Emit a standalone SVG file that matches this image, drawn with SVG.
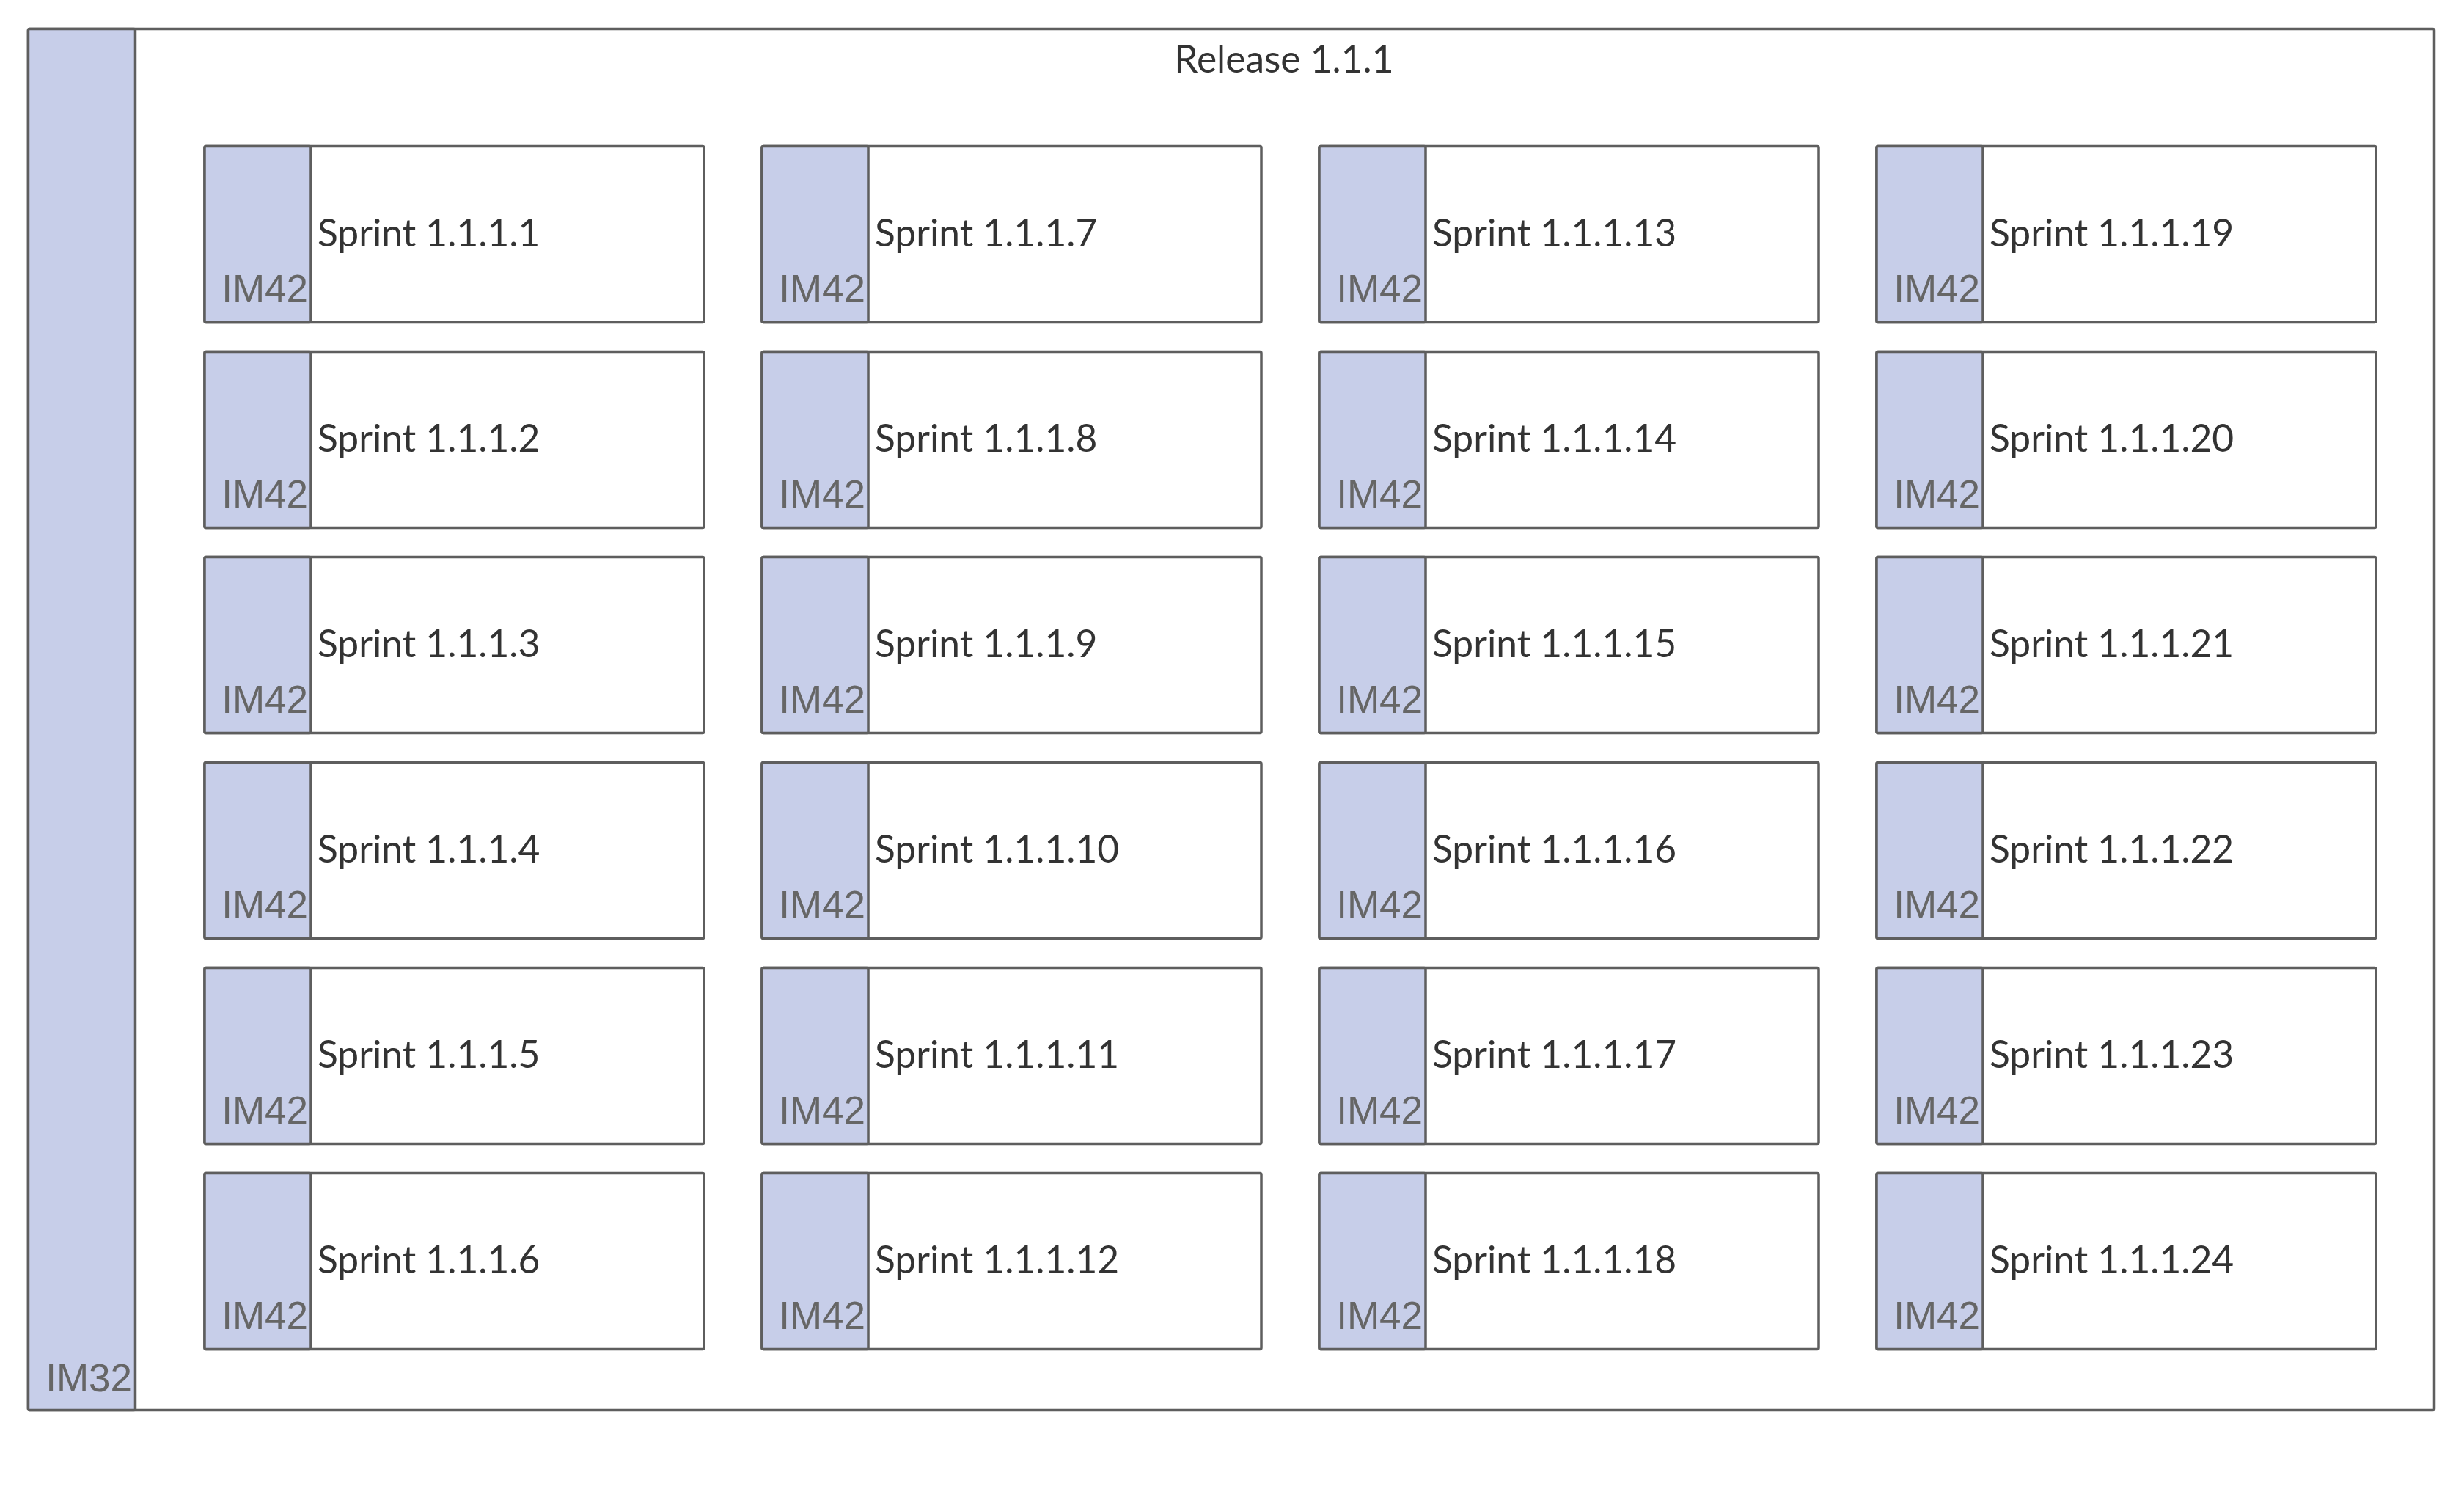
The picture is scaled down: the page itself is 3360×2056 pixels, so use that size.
<svg xmlns="http://www.w3.org/2000/svg" width="3360" height="2056" viewBox="0 0 3360 2056">
<style>
.box{fill:#ffffff;stroke:#5e5e5e;stroke-width:3.5}
.strip{fill:#c7cee9;stroke:#5e5e5e;stroke-width:3.5}
.lbl{font-family:Lato,"Liberation Sans",sans-serif;font-size:51.5px;fill:#333333}
.im{font-family:"Liberation Sans",Arial,sans-serif;font-size:53px;fill:#666666;text-anchor:end}
</style>
<defs>
<g id="sprint">
<rect class="box" x="0" y="0" width="681" height="240" rx="2"/>
<rect class="strip" x="0" y="0" width="145" height="240" rx="2"/>
<text class="im" x="141" y="212">IM42</text>
</g>
</defs>
<rect width="3360" height="2056" fill="#ffffff"/>
<g id="release">
<rect class="box" x="38.5" y="39.5" width="3281" height="1883" rx="2"/>
<rect class="strip" x="38.5" y="39.5" width="146" height="1883" rx="2"/>
<text class="im" x="180" y="1897">IM32</text>
<text class="lbl" x="1751" y="99" text-anchor="middle">Release 1.1.1</text>
</g>
<g id="sprints">
<g id="s1" transform="translate(279,199.5)"><use href="#sprint"/><text class="lbl" x="154" y="136">Sprint 1.1.1.1</text></g>
<g id="s2" transform="translate(279,479.5)"><use href="#sprint"/><text class="lbl" x="154" y="136">Sprint 1.1.1.2</text></g>
<g id="s3" transform="translate(279,759.5)"><use href="#sprint"/><text class="lbl" x="154" y="136">Sprint 1.1.1.3</text></g>
<g id="s4" transform="translate(279,1039.5)"><use href="#sprint"/><text class="lbl" x="154" y="136">Sprint 1.1.1.4</text></g>
<g id="s5" transform="translate(279,1319.5)"><use href="#sprint"/><text class="lbl" x="154" y="136">Sprint 1.1.1.5</text></g>
<g id="s6" transform="translate(279,1599.5)"><use href="#sprint"/><text class="lbl" x="154" y="136">Sprint 1.1.1.6</text></g>
<g id="s7" transform="translate(1039,199.5)"><use href="#sprint"/><text class="lbl" x="154" y="136">Sprint 1.1.1.7</text></g>
<g id="s8" transform="translate(1039,479.5)"><use href="#sprint"/><text class="lbl" x="154" y="136">Sprint 1.1.1.8</text></g>
<g id="s9" transform="translate(1039,759.5)"><use href="#sprint"/><text class="lbl" x="154" y="136">Sprint 1.1.1.9</text></g>
<g id="s10" transform="translate(1039,1039.5)"><use href="#sprint"/><text class="lbl" x="154" y="136">Sprint 1.1.1.10</text></g>
<g id="s11" transform="translate(1039,1319.5)"><use href="#sprint"/><text class="lbl" x="154" y="136">Sprint 1.1.1.11</text></g>
<g id="s12" transform="translate(1039,1599.5)"><use href="#sprint"/><text class="lbl" x="154" y="136">Sprint 1.1.1.12</text></g>
<g id="s13" transform="translate(1799,199.5)"><use href="#sprint"/><text class="lbl" x="154" y="136">Sprint 1.1.1.13</text></g>
<g id="s14" transform="translate(1799,479.5)"><use href="#sprint"/><text class="lbl" x="154" y="136">Sprint 1.1.1.14</text></g>
<g id="s15" transform="translate(1799,759.5)"><use href="#sprint"/><text class="lbl" x="154" y="136">Sprint 1.1.1.15</text></g>
<g id="s16" transform="translate(1799,1039.5)"><use href="#sprint"/><text class="lbl" x="154" y="136">Sprint 1.1.1.16</text></g>
<g id="s17" transform="translate(1799,1319.5)"><use href="#sprint"/><text class="lbl" x="154" y="136">Sprint 1.1.1.17</text></g>
<g id="s18" transform="translate(1799,1599.5)"><use href="#sprint"/><text class="lbl" x="154" y="136">Sprint 1.1.1.18</text></g>
<g id="s19" transform="translate(2559,199.5)"><use href="#sprint"/><text class="lbl" x="154" y="136">Sprint 1.1.1.19</text></g>
<g id="s20" transform="translate(2559,479.5)"><use href="#sprint"/><text class="lbl" x="154" y="136">Sprint 1.1.1.20</text></g>
<g id="s21" transform="translate(2559,759.5)"><use href="#sprint"/><text class="lbl" x="154" y="136">Sprint 1.1.1.21</text></g>
<g id="s22" transform="translate(2559,1039.5)"><use href="#sprint"/><text class="lbl" x="154" y="136">Sprint 1.1.1.22</text></g>
<g id="s23" transform="translate(2559,1319.5)"><use href="#sprint"/><text class="lbl" x="154" y="136">Sprint 1.1.1.23</text></g>
<g id="s24" transform="translate(2559,1599.5)"><use href="#sprint"/><text class="lbl" x="154" y="136">Sprint 1.1.1.24</text></g>
</g>
<g id="connectors"/>
</svg>
